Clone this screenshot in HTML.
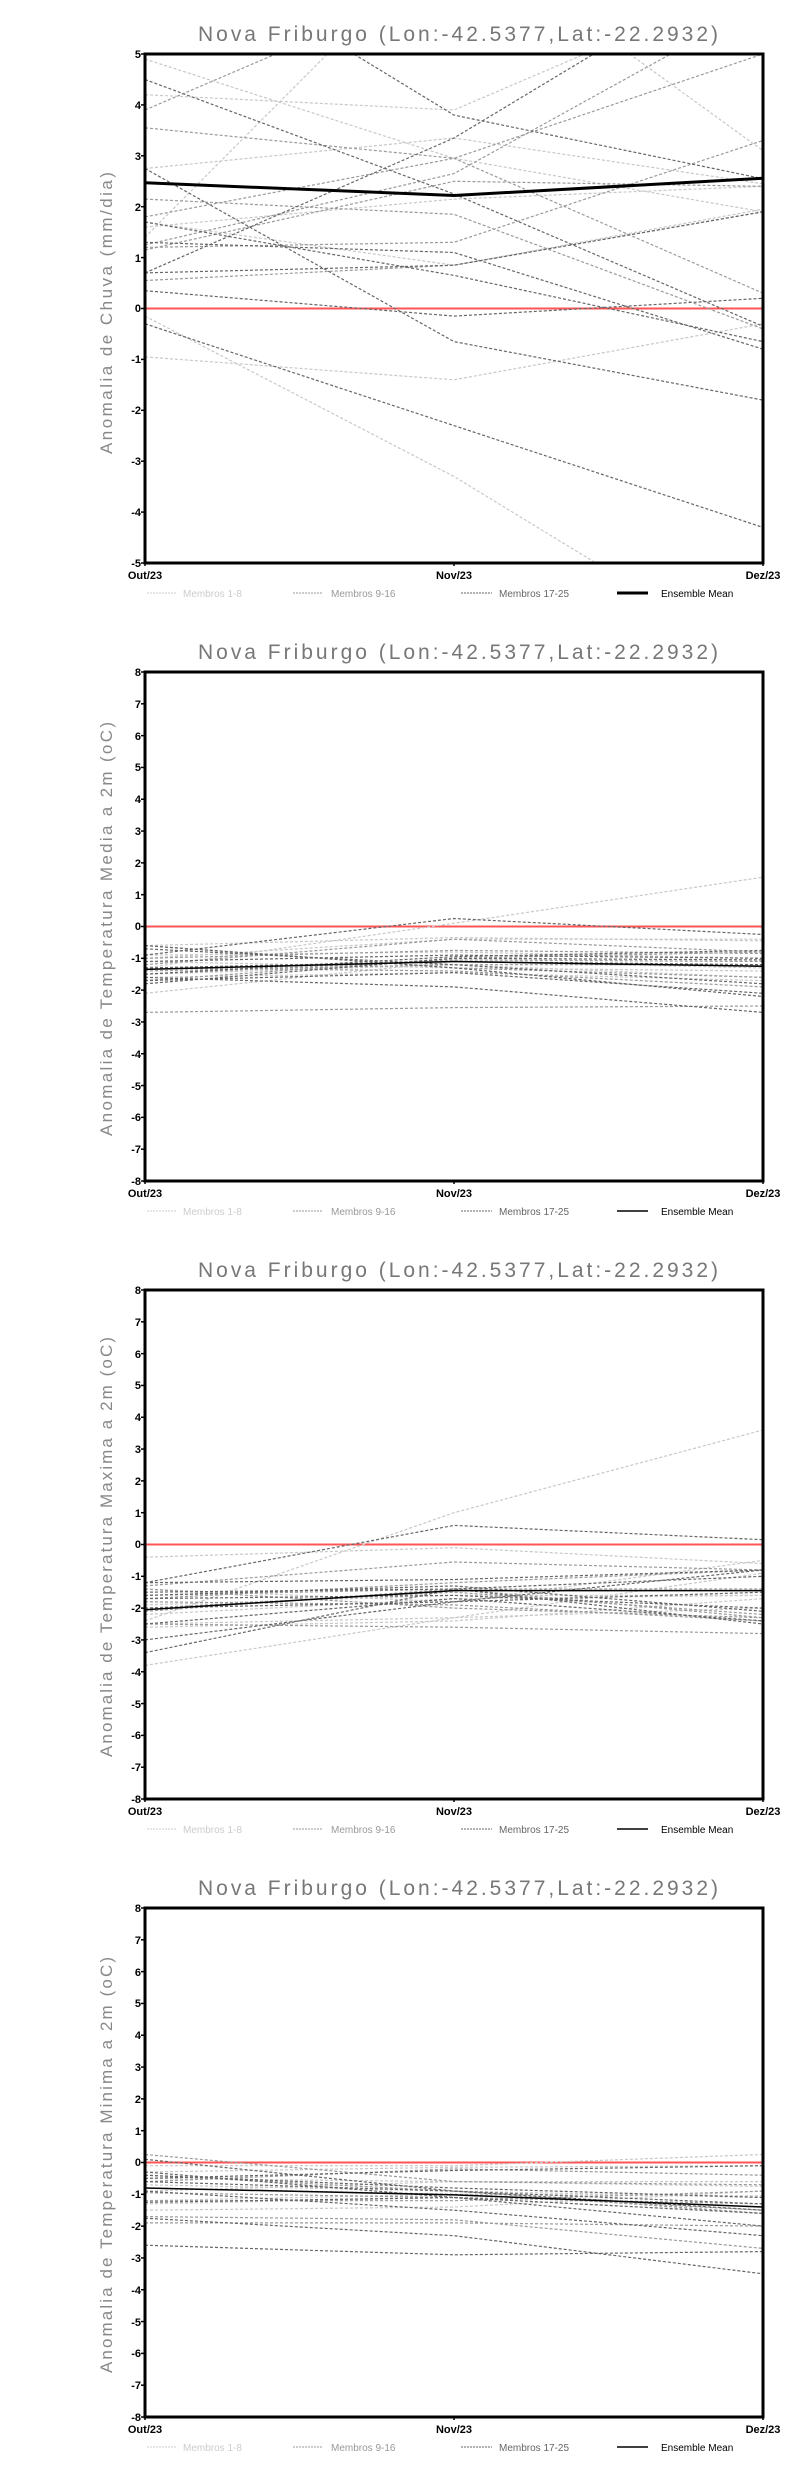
<!DOCTYPE html>
<html><head><meta charset="utf-8"><style>
html,body{margin:0;padding:0;background:#fff;width:800px;height:2472px;overflow:hidden}
svg{display:block}
.t{font-family:"Liberation Sans",sans-serif;font-size:21px;fill:#777;text-anchor:middle}
.yl{font-family:"Liberation Sans",sans-serif;font-size:17px;fill:#888;text-anchor:middle}
.tk{font-family:"Liberation Sans Narrow","Liberation Sans",sans-serif;font-weight:bold;font-size:11px;fill:#000;text-anchor:end}
.xl{font-family:"Liberation Sans Narrow","Liberation Sans",sans-serif;font-weight:bold;font-size:11px;fill:#000;text-anchor:middle}
.lg{font-family:"Liberation Sans",sans-serif;font-size:10px}
</style></head><body>
<svg id="s" width="800" height="2472" xmlns="http://www.w3.org/2000/svg">
<g id="c0">
<text class="t" x="458" y="41" textLength="520" lengthAdjust="spacing">Nova Friburgo (Lon:-42.5377,Lat:-22.2932)</text>
<text class="yl" transform="translate(112,313) rotate(-90)" textLength="282" lengthAdjust="spacing">Anomalia de Chuva (mm/dia)</text>
<text class="tk" x="141" y="58">5</text><text class="tk" x="141" y="109">4</text><text class="tk" x="141" y="160">3</text><text class="tk" x="141" y="211">2</text><text class="tk" x="141" y="262">1</text><text class="tk" x="141" y="312">0</text><text class="tk" x="141" y="363">-1</text><text class="tk" x="141" y="414">-2</text><text class="tk" x="141" y="465">-3</text><text class="tk" x="141" y="516">-4</text><text class="tk" x="141" y="567">-5</text>
<text class="xl" x="145" y="579">Out/23</text><text class="xl" x="454" y="579">Nov/23</text><text class="xl" x="763" y="579">Dez/23</text>
<text class="lg" x="183" y="597" fill="#ccc">Membros 1-8</text><text class="lg" x="331" y="597" fill="#999">Membros 9-16</text><text class="lg" x="499" y="597" fill="#666">Membros 17-25</text><text class="lg" x="661" y="597" fill="#000">Ensemble Mean</text>
</g>
<g id="c1" transform="translate(0,618)">
<text class="t" x="458" y="41" textLength="520" lengthAdjust="spacing">Nova Friburgo (Lon:-42.5377,Lat:-22.2932)</text>
<text class="yl" transform="translate(112,311) rotate(-90)" textLength="414" lengthAdjust="spacing">Anomalia de Temperatura Media a 2m (oC)</text>
<text class="tk" x="141" y="58">8</text><text class="tk" x="141" y="90">7</text><text class="tk" x="141" y="122">6</text><text class="tk" x="141" y="153">5</text><text class="tk" x="141" y="185">4</text><text class="tk" x="141" y="217">3</text><text class="tk" x="141" y="249">2</text><text class="tk" x="141" y="281">1</text><text class="tk" x="141" y="312">0</text><text class="tk" x="141" y="344">-1</text><text class="tk" x="141" y="376">-2</text><text class="tk" x="141" y="408">-3</text><text class="tk" x="141" y="440">-4</text><text class="tk" x="141" y="472">-5</text><text class="tk" x="141" y="503">-6</text><text class="tk" x="141" y="535">-7</text><text class="tk" x="141" y="567">-8</text>
<text class="xl" x="145" y="579">Out/23</text><text class="xl" x="454" y="579">Nov/23</text><text class="xl" x="763" y="579">Dez/23</text>
<text class="lg" x="183" y="597" fill="#ccc">Membros 1-8</text><text class="lg" x="331" y="597" fill="#999">Membros 9-16</text><text class="lg" x="499" y="597" fill="#666">Membros 17-25</text><text class="lg" x="661" y="597" fill="#000">Ensemble Mean</text>
</g>
<g id="c2" transform="translate(0,1236)">
<text class="t" x="458" y="41" textLength="520" lengthAdjust="spacing">Nova Friburgo (Lon:-42.5377,Lat:-22.2932)</text>
<text class="yl" transform="translate(112,311) rotate(-90)" textLength="420" lengthAdjust="spacing">Anomalia de Temperatura Maxima a 2m (oC)</text>
<text class="tk" x="141" y="58">8</text><text class="tk" x="141" y="90">7</text><text class="tk" x="141" y="122">6</text><text class="tk" x="141" y="153">5</text><text class="tk" x="141" y="185">4</text><text class="tk" x="141" y="217">3</text><text class="tk" x="141" y="249">2</text><text class="tk" x="141" y="281">1</text><text class="tk" x="141" y="312">0</text><text class="tk" x="141" y="344">-1</text><text class="tk" x="141" y="376">-2</text><text class="tk" x="141" y="408">-3</text><text class="tk" x="141" y="440">-4</text><text class="tk" x="141" y="472">-5</text><text class="tk" x="141" y="503">-6</text><text class="tk" x="141" y="535">-7</text><text class="tk" x="141" y="567">-8</text>
<text class="xl" x="145" y="579">Out/23</text><text class="xl" x="454" y="579">Nov/23</text><text class="xl" x="763" y="579">Dez/23</text>
<text class="lg" x="183" y="597" fill="#ccc">Membros 1-8</text><text class="lg" x="331" y="597" fill="#999">Membros 9-16</text><text class="lg" x="499" y="597" fill="#666">Membros 17-25</text><text class="lg" x="661" y="597" fill="#000">Ensemble Mean</text>
</g>
<g id="c3" transform="translate(0,1854)">
<text class="t" x="458" y="41" textLength="520" lengthAdjust="spacing">Nova Friburgo (Lon:-42.5377,Lat:-22.2932)</text>
<text class="yl" transform="translate(112,311) rotate(-90)" textLength="416" lengthAdjust="spacing">Anomalia de Temperatura Minima a 2m (oC)</text>
<text class="tk" x="141" y="58">8</text><text class="tk" x="141" y="90">7</text><text class="tk" x="141" y="122">6</text><text class="tk" x="141" y="153">5</text><text class="tk" x="141" y="185">4</text><text class="tk" x="141" y="217">3</text><text class="tk" x="141" y="249">2</text><text class="tk" x="141" y="281">1</text><text class="tk" x="141" y="312">0</text><text class="tk" x="141" y="344">-1</text><text class="tk" x="141" y="376">-2</text><text class="tk" x="141" y="408">-3</text><text class="tk" x="141" y="440">-4</text><text class="tk" x="141" y="472">-5</text><text class="tk" x="141" y="503">-6</text><text class="tk" x="141" y="535">-7</text><text class="tk" x="141" y="567">-8</text>
<text class="xl" x="145" y="579">Out/23</text><text class="xl" x="454" y="579">Nov/23</text><text class="xl" x="763" y="579">Dez/23</text>
<text class="lg" x="183" y="597" fill="#ccc">Membros 1-8</text><text class="lg" x="331" y="597" fill="#999">Membros 9-16</text><text class="lg" x="499" y="597" fill="#666">Membros 17-25</text><text class="lg" x="661" y="597" fill="#000">Ensemble Mean</text>
</g>
</svg>
<script>
var NS="http://www.w3.org/2000/svg";
var C=[
{lim:5,mw:3,
L:[[4.9,2.95,1.9],[4.2,3.9,6.5],[1.4,7.5,3.1],[2.75,3.35,2.45],[-0.15,-3.3,-7],[-0.95,-1.4,-0.3],[1.7,0.85,1.95],[1.6,2.15,2.4]],
M:[[3.9,6.5,8],[3.55,2.95,0.3],[1.8,2.95,5.0],[1.25,2.65,6],[1.15,2.5,2.4],[0.55,0.85,1.9],[1.2,1.3,3.3],[2.15,1.85,-0.4]],
D:[[4.5,2.25,-0.35],[7.5,3.8,2.55],[0.7,3.35,7],[2.75,-0.65,-1.8],[-0.3,-2.3,-4.3],[0.35,-0.15,0.2],[1.7,0.65,-0.65],[0.7,0.85,1.9],[1.3,1.1,-0.8]],
m:[2.47,2.22,2.56]},
{lim:8,mw:1.5,
L:[[-1.3,0.1,1.55],[-0.6,-0.35,-0.45],[-2.1,-1.1,-1.3],[-1.0,-0.4,-0.4],[-1.5,-1.2,-1.6],[-1.1,-1.3,-1.4],[-0.9,-0.8,-1.0],[-1.6,-1.45,-1.7]],
M:[[-1.2,-0.4,-0.8],[-1.7,-1.0,-0.8],[-0.6,-1.3,-1.6],[-1.4,-1.2,-1.2],[-2.7,-2.55,-2.5],[-1.0,-0.75,-0.85],[-1.5,-1.05,-1.1],[-1.3,-1.4,-1.9]],
D:[[-0.9,0.25,-0.25],[-0.6,-1.3,-2.2],[-1.6,-1.9,-2.7],[-1.1,-0.9,-1.0],[-1.7,-1.45,-2.1],[-0.7,-1.2,-1.8],[-1.5,-0.95,-0.75],[-1.3,-1.1,-1.2],[-1.8,-1.0,-1.05]],
m:[-1.35,-1.1,-1.25]},
{lim:8,mw:1.5,
L:[[-2.4,1.0,3.6],[-0.4,-0.1,-0.6],[-3.8,-2.3,-0.9],[-2.6,-2.4,-1.7],[-2.2,-1.7,-1.6],[-2.5,-2.3,-2.0],[-1.4,-1.8,-0.5],[-1.9,-1.6,-1.6]],
M:[[-1.6,-1.4,-2.3],[-2.5,-2.6,-2.8],[-1.3,-0.55,-0.8],[-2.0,-1.5,-2.2],[-1.7,-1.2,-0.8],[-1.8,-1.9,-2.4],[-2.1,-1.4,-1.4],[-1.4,-2.0,-2.3]],
D:[[-1.2,0.6,0.15],[-3.4,-1.4,-1.0],[-3.0,-1.8,-0.8],[-1.2,-1.1,-0.8],[-2.5,-1.7,-2.4],[-1.5,-1.4,-2.5],[-1.6,-1.3,-2.1],[-2.0,-1.8,-1.5],[-1.7,-1.6,-2.0]],
m:[-2.05,-1.45,-1.45]},
{lim:8,mw:1.5,
L:[[-0.1,-0.1,0.25],[-0.5,-0.6,-0.6],[-0.9,-0.6,-0.75],[-1.2,-1.0,-1.05],[-0.3,-0.15,-0.1],[-1.3,-1.1,-1.6],[-0.7,-0.9,-1.1],[-1.5,-1.4,-0.9]],
M:[[0.25,-0.6,-0.7],[-1.7,-1.8,-2.7],[-0.6,-0.2,-0.4],[-0.8,-1.0,-1.5],[-1.2,-1.2,-0.9],[-0.4,-0.9,-1.6],[-1.9,-1.9,-2.0],[-0.95,-1.1,-1.3]],
D:[[0.1,-0.9,-1.5],[-1.75,-2.3,-3.5],[-0.5,-0.25,-0.1],[-0.9,-1.5,-2.3],[-0.3,-1.1,-2.0],[-2.6,-2.9,-2.8],[-0.6,-0.9,-1.3],[-1.25,-1.1,-1.6],[-0.4,-0.8,-1.1]],
m:[-0.8,-1.02,-1.4]}];
function el(p,n,a){var e=document.createElementNS(NS,n);for(var k in a)e.setAttribute(k,a[k]);p.appendChild(e);return e;}
var X=[145,454,763],T=54,B=563;
C.forEach(function(c,i){
 var g=document.getElementById("c"+i);
 var cid="cl"+i;
 var cp=el(g,"clipPath",{id:cid});el(cp,"rect",{x:145,y:T,width:618,height:B-T});
 var lim=c.lim,H=B-T;
 function Y(v){return T+(lim-v)/(2*lim)*H;}
 function pl(v,col,w,dash){var a={points:v.map(function(y,j){return X[j]+","+Y(y).toFixed(1)}).join(" "),fill:"none",stroke:col,"stroke-width":w,"clip-path":"url(#"+cid+")"};if(dash)a["stroke-dasharray"]="3,2";el(g,"polyline",a);}
 el(g,"line",{x1:145,x2:763,y1:Y(0),y2:Y(0),stroke:"#f55","stroke-width":2});
 c.L.forEach(function(v){pl(v,"#c8c8c8",1.2,1)});
 c.M.forEach(function(v){pl(v,"#9a9a9a",1.2,1)});
 c.D.forEach(function(v){pl(v,"#666",1.2,1)});
 pl(c.m,"#000",c.mw,0);
 el(g,"rect",{x:145,y:T,width:618,height:H,fill:"none",stroke:"#000","stroke-width":3});
 for(var v=-lim;v<=lim;v++){el(g,"line",{x1:141,x2:145,y1:Y(v),y2:Y(v),stroke:"#000","stroke-width":1.5});}
 [145,454,763].forEach(function(x){el(g,"line",{x1:x,x2:x,y1:B,y2:B+3,stroke:"#000","stroke-width":1.5})});
 el(g,"line",{x1:147,x2:176,y1:593,y2:593,stroke:"#ccc","stroke-width":1,"stroke-dasharray":"2,1"});
 el(g,"line",{x1:293,x2:322,y1:593,y2:593,stroke:"#999","stroke-width":1,"stroke-dasharray":"2,1"});
 el(g,"line",{x1:461,x2:492,y1:593,y2:593,stroke:"#666","stroke-width":1,"stroke-dasharray":"2,1"});
 el(g,"line",{x1:617,x2:648,y1:593,y2:593,stroke:"#000","stroke-width":c.mw});
});
</script>
</body></html>
